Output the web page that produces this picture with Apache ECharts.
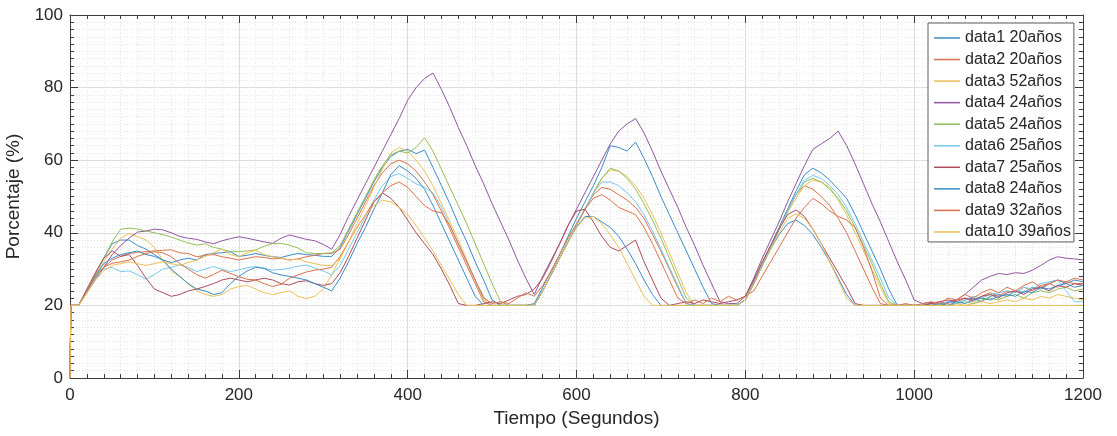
<!DOCTYPE html>
<html>
<head>
<meta charset="utf-8">
<script src="https://cdn.jsdelivr.net/npm/echarts@6/dist/echarts.min.js"></script>
<style>
  html, body { margin: 0; padding: 0; background: #ffffff; }
  #chart { width: 1117px; height: 436px; }
</style>
</head>
<body>
<div id="chart"></div>
<script>
// Tiempo (s)
const tiempo = [0, 1, 10, 20, 30, 40, 50, 60, 70, 80, 90, 100,
  110, 120, 130, 140, 150, 160, 170, 180, 190, 200,
  210, 220, 230, 240, 250, 260, 270, 280, 290, 300,
  310, 320, 330, 340, 350, 360, 370, 380, 390, 400,
  410, 420, 430, 440, 450, 460, 470, 480, 490, 500,
  510, 520, 530, 540, 550, 560, 570, 580, 590, 600,
  610, 620, 630, 640, 650, 660, 670, 680, 690, 700,
  710, 720, 730, 740, 750, 760, 770, 780, 790, 800,
  810, 820, 830, 840, 850, 860, 870, 880, 890, 900,
  910, 920, 930, 940, 950, 960, 970, 980, 990, 1000,
  1010, 1020, 1030, 1040, 1050, 1060, 1070, 1080, 1090, 1100,
  1110, 1120, 1130, 1140, 1150, 1160, 1170, 1180, 1190, 1200];

const nombres = ['data1 20años', 'data2 20años', 'data3 52años', 'data4 24años', 'data5 24años',
  'data6 25años', 'data7 25años', 'data8 24años', 'data9 32años', 'data10 39años'];

const data1 = [0, 20,
  20, 24, 28.5, 33, 37, 38, 38, 36.5, 35.5, 34,
  32.5, 31.8, 32.5, 33, 32.5, 34, 34.3, 34.5, 34.8, 33.5,
  33.8, 34.3, 33.8, 33.4, 33.2, 33.8, 34.3, 34, 33.8, 33.5,
  33.5, 36, 40.5, 45, 49.5, 54, 58, 61, 62.5, 63,
  61.8, 62.8, 58, 53, 48, 42.5, 37.5, 32, 27, 21.5,
  20, 20, 20, 20, 20.5, 25, 29.5, 34, 39, 44,
  48.5, 53, 58, 64, 63.5, 62.5, 65, 60.5, 55.5, 50,
  45, 40, 35, 30, 25, 20.5, 20, 20, 20, 21.5,
  26.5, 31.5, 36.5, 41.5, 46.5, 51.5, 56, 57.8, 56.5, 54.5,
  52, 49.5, 45, 40, 35, 30, 24.5, 20, 20, 20,
  20, 20.5, 20, 21, 20.5, 21.5, 22, 21, 22.5, 23,
  22.5, 24, 23.5, 25, 24.5, 26, 27, 26, 27, 26.5];

const data2 = [0, 20,
  20, 23.5, 27.5, 30.5, 32.5, 33.5, 34.3, 34.6, 34.8, 35,
  35.2, 35.3, 34.5, 34.3, 33.4, 33.8, 34, 33.4, 33, 32.5,
  33, 33.4, 33.2, 32.8, 33, 32.5, 32.8, 33.4, 33.8, 34.3,
  34.3, 35.5, 39.5, 44, 48.5, 53, 56.5, 59, 60, 59,
  57, 54, 50.5, 46, 41, 36, 31, 26, 21, 20,
  20, 20, 20, 20, 20, 24, 28.5, 33, 37.5, 42,
  46.5, 50.5, 52.5, 52, 50.5, 49, 47, 44, 39.5, 35,
  30, 25, 20.5, 20, 20, 20, 20, 20, 20, 21.5,
  26, 31, 36, 41, 46, 50.5, 53, 52, 50, 47.5,
  44, 40, 35, 30, 25, 20.5, 20, 20, 20, 20,
  20, 20.5, 21, 20.5, 21.5, 22, 21, 22.5, 23.5, 22.5,
  24, 23.5, 25, 24, 25.5, 26, 25, 26.5, 26, 26];

const data3 = [0, 20,
  20, 24, 28, 32, 35.5, 38.5, 39.8, 39, 38, 36,
  32.5, 29.5, 27.9, 26, 24, 23, 22.5, 23, 24.5, 25.2,
  25.5, 24.5, 23.5, 23, 23.5, 24, 22.5, 21.9, 22.5, 24.5,
  28.5, 33, 37.5, 42.5, 47.5, 52.5, 57.5, 62, 63.5, 62.5,
  60, 57, 53, 48, 43, 38, 32.5, 27, 21.5, 20,
  20, 20, 20, 20, 20, 24, 28.5, 33, 37.5, 42,
  46.5, 51, 55, 57.3, 57, 55.5, 53, 49.5, 45, 40,
  34.5, 29, 23.5, 20, 20, 20, 20, 20, 20, 21.5,
  26, 31, 36, 41, 45.5, 49.5, 53, 54.5, 54, 52.5,
  49, 45, 40, 35, 30, 25, 20.5, 20, 20, 20,
  20, 20, 20, 20, 20.5, 20, 20.5, 21, 20.5, 21,
  21.5, 21, 22, 21.5, 22.5, 22, 23, 22.5, 22, 21.5];

const data4 = [0, 20,
  20, 23.5, 27, 30.5, 34, 36.5, 38.5, 40.2, 40.5, 41,
  40.8, 40, 39, 38.5, 38.2, 37.5, 37, 37.8, 38.4, 38.9,
  38.5, 38, 37.5, 37.1, 38.5, 39.4, 38.8, 38.2, 37.8, 36.8,
  35.5, 39.5, 44.5, 49, 53.5, 58, 62.5, 67, 71.5, 76.5,
  80, 82.5, 84, 79.5, 74.5, 69, 64, 58.5, 53.5, 48,
  43, 38, 32.5, 27.5, 23, 28, 32.5, 37, 42, 46.5,
  51, 55.5, 60, 64.5, 68, 70, 71.5, 67.5, 62.5, 57,
  52, 47, 41.5, 36.5, 31, 26, 21, 20.5, 20.5, 22.5,
  27.5, 33, 38, 43, 48.5, 53.5, 58.5, 63, 64.5, 66,
  68, 64, 59, 53.5, 48, 43, 37.5, 32, 27, 21.5,
  20.5, 20.8, 20.5, 20.8, 21.5, 23, 25, 27, 28, 28.8,
  28.5, 29, 28.8, 29.7, 31, 32.5, 33.4, 33, 32.8, 32.5];

const data5 = [0, 20,
  20, 24, 28.5, 33, 37.5, 41, 41.3, 41, 40.5, 40,
  39.5, 38.8, 38, 37.2, 36.6, 37, 36, 35.5, 34.8, 34.8,
  35, 35.3, 36.3, 37, 37.1, 36.6, 35.8, 34.5, 34.3, 34.3,
  34.5, 36.5, 41, 45.5, 50, 54.5, 58.5, 61.5, 62.5, 62,
  63.5, 66.2, 62.5, 57.5, 52.5, 47.5, 42.5, 37, 31.5, 26,
  21, 20, 20, 20, 20, 24, 28.5, 33, 37.5, 42,
  46.5, 51, 55, 57.8, 57, 55, 52, 48, 43.5, 38.5,
  33, 27.5, 22, 20, 20, 20, 20, 20, 20, 21.5,
  26, 31, 36, 41, 46, 50.5, 54, 55, 54, 52,
  49.5, 46, 41.5, 36.5, 31.5, 26, 21, 20, 20, 20,
  20, 20, 20.3, 20, 20.5, 21, 20.5, 21.5, 22, 21.5,
  22.5, 23, 22, 23.5, 24, 23.5, 24.5, 25, 24, 24.5];

const data6 = [0, 20,
  20, 24, 27.5, 30, 30.5, 29.3, 29.5, 28.5, 27.2, 28.5,
  30, 30.5, 31.2, 30.5, 29.3, 30, 30.7, 30, 29.3, 29.8,
  30.4, 30.7, 30.2, 29.7, 29.9, 30.2, 30.8, 31.1, 30.3, 29.5,
  28.4, 31, 35.5, 40, 44.5, 49, 53, 55.5, 56.3, 55,
  53.5, 52.5, 51, 47, 42, 37, 32, 27, 22.5, 20,
  20, 20, 20, 20, 20, 24, 28.5, 33, 37.5, 42,
  46.5, 51, 54, 54, 53, 51, 48.5, 45, 40.5, 35.5,
  30.5, 25.5, 20.5, 20, 20, 20, 20, 20, 20, 21.5,
  26, 31, 36, 41, 46, 50.5, 54.5, 55.8, 55, 53,
  50.5, 47, 42.5, 37.5, 32.5, 27.5, 22, 20, 20, 20,
  20, 20, 20.5, 21, 20.5, 21.5, 22.5, 22, 23, 23.5,
  24, 23.5, 25, 24.5, 26, 26.5, 27, 24, 21, 21];

const data7 = [0, 20,
  20, 24.5, 29, 33, 35, 33.5, 34, 31, 27.5, 24.5,
  23.5, 22.5, 23, 24, 24.5, 25.2, 26, 27, 27.5, 27,
  26.5, 27, 27.5, 27, 26, 25.6, 26.5, 26.8, 26, 25.5,
  26, 29, 33.5, 38.5, 43.5, 48.5, 51, 49.5, 47, 43.5,
  40, 37, 34, 30, 25.5, 20.5, 20, 20, 20.5, 21,
  20.5, 21.5, 22.5, 23, 24.5, 27.5, 32, 37, 42, 46,
  46.5, 43, 39, 36, 35, 36.5, 38, 32, 27, 22,
  20, 20.5, 21, 20.5, 21.5, 21, 20.5, 21, 21.5, 22.5,
  27, 32, 36.5, 41, 45, 46.3, 44.5, 41, 37, 33,
  29, 25, 20.5, 20, 20, 20, 20, 20, 20, 20,
  20, 20.5, 21, 21.5, 21, 22, 21.5, 22.5, 23, 22,
  23.5, 24, 23, 24.5, 25, 24, 25.5, 25, 26, 25.5];

const data8 = [0, 20,
  20, 24, 28, 31.5, 33, 34, 34.5, 35, 34, 33.5,
  32.5, 30, 28, 26, 24.5, 24, 23, 23.5, 26, 28,
  29.5, 30.5, 30.2, 29, 28.4, 28, 27.5, 27, 26, 25,
  24, 27.5, 32, 37, 41.5, 46.5, 51, 56, 58.5, 57,
  55, 52, 47.5, 42.5, 37.5, 32.5, 27.5, 22.5, 20, 20,
  20, 20, 20, 20, 20, 24, 28.5, 33, 37.5, 41.5,
  44.5, 44.5, 43, 41.5, 39, 35.5, 31.5, 27, 23, 20,
  20, 20, 20, 20, 20, 20, 20, 20, 20, 21.5,
  26, 31, 35.5, 39.5, 42.5, 43.5, 42, 39.5, 36, 32,
  27.5, 23, 20, 20, 20, 20, 20, 20, 20, 20,
  20, 20, 20.5, 20, 21, 20.5, 21.5, 22, 21.5, 22.5,
  23, 22.5, 24, 23.5, 25, 24.5, 25.5, 26, 25, 25.5];

const data9 = [0, 20,
  20, 24, 28, 30.5, 31.6, 32, 32.5, 33.5, 34.3, 34.8,
  34.5, 33.4, 31.5, 30, 28.5, 27.5, 28.5, 29.7, 28.8, 27.9,
  27.2, 27, 26, 25.2, 25.8, 27.5, 28.4, 29.2, 29.7, 30,
  30.5, 33.5, 37.5, 41.5, 45, 48.5, 51, 53, 54, 52.5,
  50, 47.5, 46, 45.5, 42, 37, 32, 27, 22, 20.5,
  21, 20.5, 22, 23.5, 22.5, 25.5, 29.5, 34, 38.5, 42.5,
  46.5, 49.5, 50.5, 49, 47, 46, 45, 41.5, 37, 32,
  27, 22, 20.5, 21.5, 20.5, 22, 21, 22.5, 21.5, 22.5,
  24, 28, 32, 36, 40, 44, 47, 49.5, 48, 46,
  44.5, 43.5, 41.5, 36, 29.5, 22, 20, 20, 20.5, 20,
  20.5, 21, 20.5, 22, 21.5, 23, 22, 23.5, 24.5, 23.5,
  25, 24, 25.5, 26.5, 25, 26, 27, 26.5, 27.5, 27];

const data10 = [0, 20,
  20, 23.5, 27, 29.5, 31, 31.5, 32, 31.5, 31, 31.5,
  32, 31.5, 31, 31.8, 32.5, 33.5, 34.5, 35.5, 34, 33.4,
  34.5, 35.2, 34, 33.4, 33, 32.5, 32.8, 32, 31.5, 31,
  31, 33, 37.5, 41.5, 45, 47.5, 49, 48.5, 47, 45,
  42, 38.5, 35, 31, 27, 23, 20, 20, 20, 20,
  20, 20, 20, 20, 20, 24, 28.5, 33, 37.5, 41.5,
  44, 44.5, 42.5, 39.5, 36, 31.5, 27, 22.5, 20, 20,
  20, 20, 20, 20, 20, 20, 20, 20, 20, 21.5,
  26, 31, 35.5, 40, 44, 45.2, 44, 41, 37, 32,
  27, 22, 20, 20, 20, 20, 20, 20, 20, 20,
  20, 20, 20, 20, 20, 20, 20, 20, 20, 20,
  20, 20, 20, 20, 20, 20, 20, 20, 20, 20];

const valores = [data1, data2, data3, data4, data5, data6, data7, data8, data9, data10];
const colores = ['#3a8cc6', '#d9714a', '#ecbf55', '#9056a0', '#93bd58',
                 '#75c9ef', '#ad4a5c', '#3a8cc6', '#d9714a', '#ecbf55'];

const FONT = '"Liberation Sans", Arial, Helvetica, sans-serif';
const AXIS_COLOR = '#3c3c3c';
const TEXT_COLOR = '#262626';

const chart = echarts.init(document.getElementById('chart'), null, { renderer: 'canvas' });

function baseX(extra) {
  return Object.assign({
    type: 'value', min: 0, max: 1200, interval: 200, gridIndex: 0,
    axisLine: { show: true, onZero: false, lineStyle: { color: AXIS_COLOR, width: 1 } },
    axisTick: { show: true, inside: true, length: 8, lineStyle: { color: AXIS_COLOR, width: 1 } },
    minorTick: { show: true, splitNumber: 10, length: 4, lineStyle: { color: AXIS_COLOR, width: 1 } },
    splitLine: { show: false },
    minorSplitLine: { show: false },
    axisLabel: { show: false }
  }, extra);
}
function baseY(extra) {
  return Object.assign({
    type: 'value', min: 0, max: 100, interval: 20, gridIndex: 0,
    axisLine: { show: true, onZero: false, lineStyle: { color: AXIS_COLOR, width: 1 } },
    axisTick: { show: true, inside: true, length: 8, lineStyle: { color: AXIS_COLOR, width: 1 } },
    minorTick: { show: true, splitNumber: 10, length: 4, lineStyle: { color: AXIS_COLOR, width: 1 } },
    splitLine: { show: false },
    minorSplitLine: { show: false },
    axisLabel: { show: false }
  }, extra);
}

const option = {
  animation: false,
  backgroundColor: '#ffffff',
  grid: { left: 70, right: 34, top: 15, bottom: 58, containLabel: false, outerBoundsMode: 'none' },
  legend: {
    orient: 'vertical',
    left: 928, top: 23,
    padding: [7, 3, 2, 6],
    itemGap: 5.55,
    itemWidth: 26, itemHeight: 1.5,
    icon: 'rect',
    backgroundColor: '#ffffff',
    borderColor: '#5a5a5a', borderWidth: 1, borderRadius: 0,
    textStyle: { fontFamily: FONT, fontSize: 16, color: TEXT_COLOR, lineHeight: 16 },
    data: nombres
  },
  xAxis: [
    baseX({
      position: 'bottom',
      name: 'Tiempo (Segundos)', nameLocation: 'middle', nameGap: 31,
      nameTextStyle: { fontFamily: FONT, fontSize: 19, color: TEXT_COLOR },
      axisLabel: { show: true, margin: 9, fontFamily: FONT, fontSize: 17, color: TEXT_COLOR,
                   formatter: (v) => String(v) },
      splitLine: { show: true, lineStyle: { color: '#dcdcdc', width: 1 } },
      minorSplitLine: { show: true, lineStyle: { color: '#e4e4e4', width: 1, type: [1, 2] } }
    }),
    baseX({ position: 'top' })
  ],
  yAxis: [
    baseY({
      position: 'left',
      name: 'Porcentaje (%)', nameLocation: 'middle', nameGap: 39,
      nameTextStyle: { fontFamily: FONT, fontSize: 19, color: TEXT_COLOR },
      axisLabel: { show: true, margin: 7, fontFamily: FONT, fontSize: 17, color: TEXT_COLOR,
                   formatter: (v) => String(v) },
      splitLine: { show: true, lineStyle: { color: '#dcdcdc', width: 1 } },
      minorSplitLine: { show: true, lineStyle: { color: '#e4e4e4', width: 1, type: [1, 2] } }
    }),
    baseY({ position: 'right' })
  ],
  series: valores.map((vals, i) => ({
    name: nombres[i],
    type: 'line',
    xAxisIndex: 0, yAxisIndex: 0,
    data: tiempo.map((t, j) => [t, vals[j]]),
    symbol: 'none', showSymbol: false,
    lineStyle: { width: 1, color: colores[i] },
    itemStyle: { color: colores[i] },
    emphasis: { disabled: true },
    z: 2
  }))
};

chart.setOption(option);
</script>
</body>
</html>
